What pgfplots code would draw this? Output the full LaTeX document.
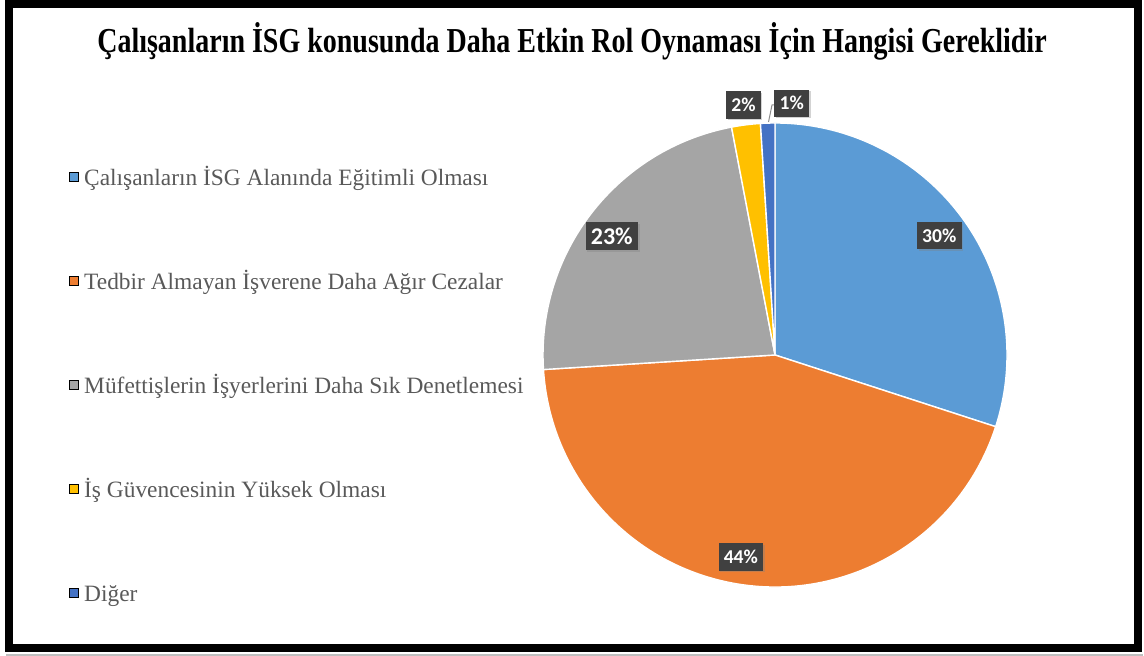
\documentclass[border=0pt]{standalone}
\usepackage{pgfplots}
\pgfplotsset{compat=1.18}
\usepackage{pgfplotstable}
\usepackage{fontspec}
\setmainfont{Liberation Serif}
\newfontfamily\lblfont{Carlito}
\usetikzlibrary{shadows}
\definecolor{cA}{HTML}{5B9BD5}
\definecolor{cB}{HTML}{ED7D31}
\definecolor{cC}{HTML}{A5A5A5}
\definecolor{cD}{HTML}{FFC000}
\definecolor{cE}{HTML}{4472C4}
\definecolor{lblbg}{HTML}{404040}
\definecolor{legtxt}{HTML}{595959}

\pgfplotstableread{
idx pct
0 30
1 44
2 23
3 2
4 1
}\piedata

\begin{document}
\begin{tikzpicture}
\pgfplotstablegetelem{0}{pct}\of\piedata \let\pA\pgfplotsretval
\pgfplotstablegetelem{1}{pct}\of\piedata \let\pB\pgfplotsretval
\pgfplotstablegetelem{2}{pct}\of\piedata \let\pC\pgfplotsretval
\pgfplotstablegetelem{3}{pct}\of\piedata \let\pD\pgfplotsretval
\pgfplotstablegetelem{4}{pct}\of\piedata \let\pE\pgfplotsretval
\pgfmathsetmacro\aA{90}
\pgfmathsetmacro\aB{\aA-3.6*\pA}
\pgfmathsetmacro\aC{\aB-3.6*\pB}
\pgfmathsetmacro\aD{\aC-3.6*\pC}
\pgfmathsetmacro\aE{\aD-3.6*\pD}
\pgfmathsetmacro\aF{\aE-3.6*\pE}
\pgfmathsetmacro\mA{(\aA+\aB)/2}
\pgfmathsetmacro\mB{(\aB+\aC)/2-2.4}
\pgfmathsetmacro\mC{(\aC+\aD)/2+1.7}
\pgfmathsetmacro\mD{(\aD+\aE)/2}
\def\R{116pt}
\useasboundingbox (0,0) rectangle (572pt,328pt);
\begin{axis}[
  at={(0,0)}, anchor=south west,
  width=572pt, height=328pt, scale only axis,
  xmin=0, xmax=1144, ymin=0, ymax=656,
  hide axis, clip=false,
  legend cell align=left,
  legend image code/.code={\fill[#1] (0pt,-1.2pt) rectangle (4.5pt,3.3pt);},
  legend style={draw=none, fill=none, inner sep=0pt,
    at={(axis cs:69,491)}, anchor=north west,
    row sep=38pt, column sep=1.5pt,
    font=\fontsize{11.7}{13}\selectfont\color{legtxt},
    nodes={inner sep=1pt, text height=9pt, text depth=3pt}},
]
\addlegendimage{fill=cA}
\addlegendentry{Çalışanların İSG Alanında Eğitimli Olması}
\addlegendimage{fill=cB}
\addlegendentry{Tedbir Almayan İşverene Daha Ağır Cezalar}
\addlegendimage{fill=cC}
\addlegendentry{Müfettişlerin İşyerlerini Daha Sık Denetlemesi}
\addlegendimage{fill=cD}
\addlegendentry{İş Güvencesinin Yüksek Olması}
\addlegendimage{fill=cE}
\addlegendentry{Diğer}

% pie slices
\filldraw[fill=cA, draw=white, line width=0.7pt] (axis cs:775,301) -- ++(\aA:\R) arc[start angle=\aA, end angle=\aB, radius=\R] -- cycle;
\filldraw[fill=cB, draw=white, line width=0.7pt] (axis cs:775,301) -- ++(\aB:\R) arc[start angle=\aB, end angle=\aC, radius=\R] -- cycle;
\filldraw[fill=cC, draw=white, line width=0.7pt] (axis cs:775,301) -- ++(\aC:\R) arc[start angle=\aC, end angle=\aD, radius=\R] -- cycle;
\filldraw[fill=cD, draw=white, line width=0.7pt] (axis cs:775,301) -- ++(\aD:\R) arc[start angle=\aD, end angle=\aE, radius=\R] -- cycle;
\filldraw[fill=cE, draw=white, line width=0.7pt] (axis cs:775,301) -- ++(\aE:\R) arc[start angle=\aE, end angle=\aF, radius=\R] -- cycle;

% data labels
\tikzset{lbl/.style={fill=lblbg, text=white, font=\lblfont\bfseries\fontsize{9.8}{10}\selectfont,
  inner xsep=2.6pt, inner ysep=3.4pt, drop shadow={shadow xshift=0.8pt, shadow yshift=-0.8pt, opacity=0.35}}}
\path (axis cs:775,301) ++(\mA:101.5pt) node[lbl] {30\%};
\path (axis cs:775,301) ++(\mB:102.5pt) node[lbl] {44\%};
\path (axis cs:775,301) ++(\mC:101pt) node[lbl, font=\lblfont\bfseries\fontsize{12}{12}\selectfont, inner ysep=2.8pt] {23\%};
\path (axis cs:775,301) ++(\mD:126pt) node[lbl] {2\%};
\draw[black!45, line width=0.5pt] (axis cs:768.5,534) -- (axis cs:772,551) -- (axis cs:776,551);
\path (axis cs:775,301) ++(86.2:126.2pt) node[lbl] {1\%};

% title
\node[anchor=base, font=\bfseries\fontsize{14}{15}\selectfont] at (axis cs:572,603)
  {\scalebox{1}[1.25]{Çalışanların İSG konusunda Daha Etkin Rol Oynaması İçin Hangisi Gereklidir}};
\end{axis}
% frame
\draw[black!25, line width=1pt] (3pt,0.5pt) -- (571.5pt,0.5pt);
\draw[black, line width=4pt] (4.5pt,4pt) rectangle (569pt,326pt);
\end{tikzpicture}
\end{document}
